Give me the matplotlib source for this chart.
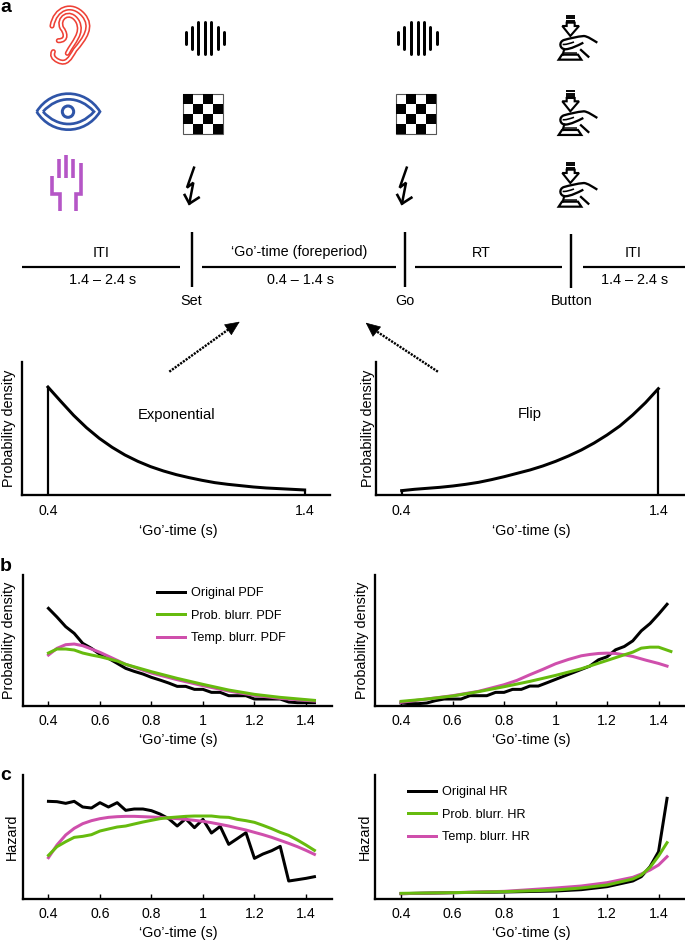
import matplotlib
matplotlib.use("Agg")
import matplotlib.pyplot as plt
from matplotlib.path import Path
from matplotlib.patches import PathPatch, Rectangle, Circle, Polygon

plt.rcParams['font.family'] = ['Liberation Sans', 'DejaVu Sans']

# ---------- data (heights above the baseline, arbitrary units) ----------
GO_TICKS = [0.4, 0.6, 0.8, 1.0, 1.2, 1.4]
GO_LABELS = ['0.4', '0.6', '0.8', '1', '1.2', '1.4']
BINS = [0.4, 0.433, 0.467, 0.5, 0.533, 0.567, 0.6, 0.633, 0.667, 0.7, 0.733, 0.767, 0.8, 0.833, 0.867, 0.9,
        0.933, 0.967, 1.0, 1.033, 1.067, 1.1, 1.133, 1.167, 1.2, 1.233, 1.267, 1.3, 1.333, 1.367, 1.4, 1.433]

a_x = [0.4, 0.45, 0.5, 0.55, 0.6, 0.65, 0.7, 0.75, 0.8, 0.85, 0.9, 0.95, 1.0, 1.05, 1.1, 1.15, 1.2, 1.25, 1.3, 1.35, 1.4]
a_exp = [325, 282, 240, 203, 171, 144, 121, 102, 86, 73, 62, 53, 45, 38, 33, 29, 25, 22, 20, 18, 16]
a_flip = [14, 18, 21, 24, 28, 33, 39, 47, 56, 66, 76, 88, 102, 118, 136, 157, 181, 208, 241, 278, 320]

b_l_orig = [292, 266, 237, 217, 187, 172, 154, 142, 127, 112, 103, 95, 85, 77, 68, 58,
            58, 49, 49, 40, 40, 30, 30, 30, 20, 20, 20, 20, 11, 9, 9, 9]
b_l_px = [0.4, 0.433, 0.467, 0.5, 0.533, 0.567, 0.6, 0.667, 0.7, 0.8, 0.9, 1.0, 1.1, 1.2, 1.3, 1.433]
b_l_prob = [158, 170, 170, 167, 158, 152, 147, 134, 124, 102, 82, 64, 47, 34, 25, 16]
b_l_temp = [152, 172, 183, 185, 180, 170, 160, 136, 124, 98, 78, 60, 44, 31, 22, 14]

b_r_orig = [9, 7, 7, 9, 16, 21, 21, 21, 31, 31, 31, 41, 41, 50, 50, 60,
            60, 70, 80, 90, 100, 110, 120, 139, 148, 169, 179, 196, 226, 248, 276, 306]
b_r_px = [0.4, 0.5, 0.6, 0.7, 0.8, 0.9, 1.0, 1.1, 1.2, 1.267, 1.3, 1.333, 1.367, 1.4, 1.448]
b_r_prob = [14, 21, 30, 43, 58, 74, 92, 112, 137, 154, 162, 174, 177, 177, 164]
b_r_tx = [0.4, 0.5, 0.6, 0.7, 0.8, 0.85, 0.9, 0.95, 1.0, 1.05, 1.1, 1.133, 1.167, 1.2, 1.233, 1.267, 1.3, 1.35, 1.4, 1.433]
b_r_temp = [11, 21, 31, 44, 64, 77, 94, 110, 127, 140, 151, 155, 158, 159, 158, 154, 149, 138, 128, 120]

c_l_orig = [292, 291, 286, 292, 275, 272, 288, 275, 288, 265, 269, 269, 264, 254, 240, 218,
            240, 213, 238, 197, 217, 163, 180, 198, 121, 134, 144, 157, 53, 57, 61, 66]
c_l_prob = [130, 156, 171, 184, 187, 192, 203, 209, 215, 218, 224, 230, 235, 240, 243, 245,
            247, 248, 248, 248, 245, 244, 238, 234, 229, 220, 210, 199, 190, 176, 161, 145]
c_l_temp = [123, 161, 191, 211, 225, 234, 240, 244, 246, 247, 247, 246, 245, 244, 242, 240,
            238, 235, 232, 228, 223, 218, 212, 206, 199, 192, 184, 175, 166, 156, 145, 133]

c_r_x = [0.4, 0.6, 0.8, 1.0, 1.1, 1.2, 1.3, 1.333, 1.367, 1.4, 1.433]
c_r_orig = [16, 19, 21, 24, 28, 37, 54, 67, 97, 142, 302]
c_r_prob = [17, 19, 22, 27, 33, 42, 60, 72, 95, 129, 169]
c_r_temp = [16, 19, 23, 33, 39, 49, 65, 75, 87, 102, 127]

BLACK, GREEN, MAGENTA = '#000000', '#66bb0e', '#cf4fac'
RED, BLUE, PURPLE = '#ee4136', '#2f55a8', '#b556c6'

W, H = 685, 942
fig = plt.figure(figsize=(W / 100, H / 100), dpi=100)
ov = fig.add_axes([0, 0, 1, 1], zorder=5)
ov.set_xlim(0, W); ov.set_ylim(H, 0); ov.axis('off'); ov.patch.set_alpha(0)

def px(p):
    return p * 0.72

def make_ax(left, right, top, bottom, ymax):
    ax = fig.add_axes([left / W, 1 - bottom / H, (right - left) / W, (bottom - top) / H])
    ax.set_xlim(0.3, 1.5); ax.set_ylim(0, ymax)
    ax.patch.set_alpha(0)
    for s in ('top', 'right'):
        ax.spines[s].set_visible(False)
    for s in ('left', 'bottom'):
        ax.spines[s].set_linewidth(px(2.3))
    ax.set_yticks([])
    return ax

def labels(ax, xl, xx, xy, yl, yx, yy, fs=10.4):
    ax.set_xlabel(xl, fontsize=fs, va='center')
    ax.xaxis.set_label_coords(xx, xy, transform=ov.transData)
    ax.set_ylabel(yl, fontsize=fs, va='center')
    ax.yaxis.set_label_coords(yx, yy, transform=ov.transData)

GO = '\u2018Go\u2019-time (s)'

# ---------- panel a curves ----------
for left, vals, name, xlx, ylx, cx, cy in [
        (22.3, a_exp, 'Exponential', 178, 9, 176.7, 415),
        (376, a_flip, 'Flip', 531, 368, 529.7, 414)]:
    ax = make_ax(left, left + 308, 361.7, 495.3, 401)
    ax.plot(a_x, vals, color=BLACK, lw=px(3.0), solid_joinstyle='round')
    ax.vlines([a_x[0], a_x[-1]], 0, [vals[0], vals[-1]], color=BLACK, lw=px(2.2))
    ax.set_xticks([0.4, 1.4]); ax.set_xticklabels(['0.4', '1.4'], fontsize=10.2)
    ax.tick_params(axis='x', length=0, pad=6)
    labels(ax, GO, xlx, 531, 'Probability density', ylx, 428.7)
    ov.text(cx, cy, name, fontsize=10.6, ha='center', va='center')

# ---------- panels b and c ----------
def panel(left, top, bottom, ymax, series, xl_x, yl, yl_x, yl_y, x_lab_y, legend=None):
    ax = make_ax(left, left + 309, top, bottom, ymax)
    for x, y, c, lab in series:
        ax.plot(x, y, color=c, lw=px(3.0), label=lab, solid_joinstyle='round')
    ax.set_xticks(GO_TICKS); ax.set_xticklabels(GO_LABELS, fontsize=10.2)
    ax.tick_params(axis='x', direction='in', length=4.6 * 0.72, width=px(1.4), pad=6)
    labels(ax, GO, xl_x, x_lab_y, yl, yl_x, yl_y)
    if legend:
        h, l = ax.get_legend_handles_labels()
        order = [0, 2, 1]
        ax.legend([h[i] for i in order], [l[i] for i in order], loc='upper left', bbox_to_anchor=legend,
                  bbox_transform=ov.transData, frameon=False, fontsize=9.1, borderpad=0, borderaxespad=0,
                  handlelength=2.25, handletextpad=0.5, labelspacing=0.85)
    return ax

panel(22.7, 575, 705.7, 392,
      [(BINS, b_l_orig, BLACK, 'Original PDF'), (b_l_px, b_l_temp, MAGENTA, 'Temp. blurr. PDF'),
       (b_l_px, b_l_prob, GREEN, 'Prob. blurr. PDF')],
      178, 'Probability density', 9.5, 640, 740, legend=(156.7, 587))
panel(375.3, 575, 706, 394,
      [(BINS, b_r_orig, BLACK, None), (b_r_tx, b_r_temp, MAGENTA, None), (b_r_px, b_r_prob, GREEN, None)],
      531, 'Probability density', 362, 640, 740)
panel(22.7, 775, 898.7, 371,
      [(BINS, c_l_orig, BLACK, None), (BINS, c_l_temp, MAGENTA, None), (BINS, c_l_prob, GREEN, None)],
      178, 'Hazard', 12, 837, 933.5)
panel(375.3, 775, 899, 372,
      [(c_r_x, c_r_orig, BLACK, 'Original HR'), (c_r_x, c_r_temp, MAGENTA, 'Temp. blurr. HR'),
       (c_r_x, c_r_prob, GREEN, 'Prob. blurr. HR')],
      531, 'Hazard', 364.5, 837, 933.5, legend=(407.7, 786))

# ---------- panel letters ----------
for t, x, y in [('a', 6, 7), ('b', 6, 566.5), ('c', 6, 775)]:
    ov.text(x, y, t, fontsize=14, fontweight='bold', ha='center', va='center')

# ---------- timeline ----------
for x0, x1 in [(21.9, 180), (202.5, 396), (414.7, 561.7), (582.7, 685)]:
    ov.plot([x0, x1], [267, 267], color=BLACK, lw=px(2.2), solid_capstyle='butt')
for x, y0, y1 in [(191.6, 232.3, 286.7), (405, 232.3, 287), (571.3, 234.3, 288.3)]:
    ov.plot([x, x], [y0, y1], color=BLACK, lw=px(2.4), solid_capstyle='butt')
for s, x, y in [('ITI', 100.6, 253), ('1.4 \u2013 2.4 s', 102.8, 280.5),
                ('\u2018Go\u2019-time (foreperiod)', 299, 252), ('0.4 \u2013 1.4 s', 301, 280.5),
                ('RT', 481, 253), ('ITI', 633, 253), ('1.4 \u2013 2.4 s', 635, 280.5),
                ('Set', 191.6, 301), ('Go', 404.6, 301), ('Button', 571.3, 301)]:
    ov.text(x, y, s, fontsize=10.4, ha='center', va='center')

# dotted arrows
for (x0, y0), (xm, ym), (x1, y1) in [((169.3, 371.7), (229, 329), (239.7, 321.7)),
                                     ((437.9, 371.7), (376, 331), (365.7, 322.7))]:
    ov.plot([x0, xm], [y0, ym], color=BLACK, lw=px(2.4), ls=(0, (0.9, 0.5)))
    ov.annotate('', xy=(x1, y1), xytext=(xm, ym),
                arrowprops=dict(arrowstyle='-|>,head_length=0.8,head_width=0.36', color=BLACK, lw=0.5,
                                shrinkA=0, shrinkB=0, mutation_scale=12))

# ---------- icons ----------
def z7(x, y):
    return (30 + x / 3, y / 3)

def curve(pts, f=z7):
    verts = [f(*pts[0])]
    codes = [Path.MOVETO]
    for i in range(1, len(pts), 3):
        verts += [f(*p) for p in pts[i:i + 3]]
        codes += [Path.CURVE4] * 3
    return Path(verts, codes)

ear_a = curve([(66, 78), (75, 25), (125, 5), (160, 45), (190, 80), (165, 115), (135, 150),
               (120, 175), (110, 195), (85, 183), (68, 175), (65, 165), (70, 155)])
ear_b = curve([(85, 122), (115, 122), (105, 95), (96, 85), (80, 55), (120, 25), (143, 65),
               (160, 100), (130, 125), (112, 160)])
for p in (ear_a, ear_b):
    ov.add_patch(PathPatch(p, fc='none', ec=RED, lw=px(5.2), capstyle='round'))
    ov.add_patch(PathPatch(p, fc='none', ec='white', lw=px(2.0), capstyle='round'))

def lens(xl, xr, ytop, ybot, yc=335):
    dt = (yc - ytop) * 4 / 3
    db = (ybot - yc) * 4 / 3
    return curve([(xl, yc), (xl + 45, yc - dt), (xr - 45, yc - dt), (xr, yc),
                  (xr - 45, yc + db), (xl + 45, yc + db), (xl, yc)])

for p in (lens(20, 210, 281, 389), lens(39, 192, 298, 372)):
    ov.add_patch(PathPatch(p, fc='none', ec=BLUE, lw=px(2.7)))
ov.add_patch(Circle(z7(114, 335), 17 / 3, fc='none', ec=BLUE, lw=px(3.0)))

for pts in [[(88, 478), (88, 535)], [(108, 465), (108, 535)], [(128, 478), (128, 535)],
            [(152, 490), (152, 582), (138, 582), (138, 632)],
            [(65, 527), (65, 582), (90, 582), (90, 632)]]:
    xs, ys = zip(*[z7(*p) for p in pts])
    ov.plot(xs, ys, color=PURPLE, lw=px(3.6), solid_capstyle='butt', solid_joinstyle='miter')

SHIFT = 212.7
bars = [(467, 95, 133), (485, 82, 148), (505, 67, 161), (525, 67, 161), (544, 67, 161), (563, 82, 148), (582, 95, 133)]
for k, dx in enumerate((0, SHIFT)):
    for x, y0, y1 in bars:
        X, Y0 = z7(x, y0); _, Y1 = z7(x, y1)
        ov.plot([X + dx, X + dx], [Y0, Y1], color=BLACK, lw=px(3.0), solid_capstyle='round')
    # checker
    x0, y0, s = 183.5 + dx, 93.5, 10
    ov.add_patch(Rectangle((x0, y0), 4 * s, 4 * s, fc='white', ec='#555555', lw=0.8))
    for r in range(4):
        for c in range(4):
            if (r + c + k) % 2 == 0:
                ov.add_patch(Rectangle((x0 + c * s, y0 + r * s), s, s, fc=BLACK, ec='none'))
    # lightning
    pts = [z7(492, 503), z7(471, 563), z7(490, 548), z7(478, 610)]
    ov.plot([p[0] + dx for p in pts], [p[1] for p in pts], color=BLACK, lw=px(2.5), solid_joinstyle='miter')
    pts = [z7(464, 585), z7(478, 611), z7(506, 593)]
    ov.plot([p[0] + dx for p in pts], [p[1] for p in pts], color=BLACK, lw=px(2.6), solid_joinstyle='miter')

def z8(x, y, dy):
    return (380 + x / 3, dy + y / 3)

for dy in (0, 75.3, 147):
    f = lambda x, y: z8(x, y, dy)
    for yy in (48, 55, 62):
        a, b = f(557, yy), f(585, yy)
        ov.plot([a[0], b[0]], [a[1], b[1]], color=BLACK, lw=px(1.9), solid_capstyle='butt')
    arrow = [(560, 68), (560, 78), (547, 78), (571, 108), (597, 78), (584, 78), (584, 68)]
    ov.add_patch(Polygon([f(x, y) for x, y in arrow], closed=True, fc='white', ec=BLACK, lw=px(2.1)))
    hand = curve([(652, 128), (635, 118), (625, 110), (612, 108), (590, 110), (570, 115), (552, 120),
                  (536, 125), (538, 147), (556, 148), (575, 146), (590, 138), (610, 128)], f)
    ov.add_patch(PathPatch(hand, fc='none', ec=BLACK, lw=px(2.3)))
    ov.add_patch(PathPatch(curve([(548, 133), (556, 135), (570, 130), (582, 126)], f), fc='none', ec=BLACK, lw=px(1.6)))
    a, b = f(603, 150), f(625, 170)
    ov.plot([a[0], b[0]], [a[1], b[1]], color=BLACK, lw=px(2.3))
    a, b = f(553, 147), f(548, 164)
    ov.plot([a[0], b[0]], [a[1], b[1]], color=BLACK, lw=px(2.1))
    ov.add_patch(Polygon([f(x, y) for x, y in [(552, 155), (592, 155), (592, 163), (552, 163)]],
                         closed=True, fc='#444444', ec='none'))
    ov.add_patch(Polygon([f(x, y) for x, y in [(546, 164), (594, 164), (604, 179), (536, 179)]],
                         closed=True, fc='white', ec=BLACK, lw=px(2.2)))

fig.savefig('out.png', dpi=100)
